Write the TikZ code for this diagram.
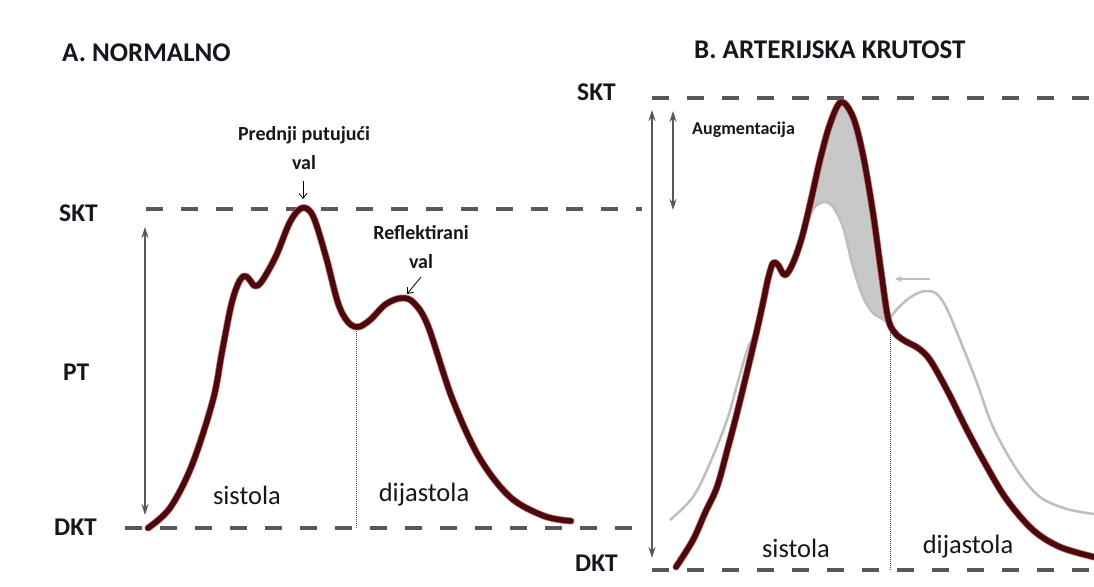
\documentclass[tikz,border=0pt]{standalone}
\usepackage{fontspec}
\setmainfont{Carlito}
\usetikzlibrary{arrows.meta}
\definecolor{wave}{RGB}{72,10,12}
\definecolor{halo}{RGB}{200,105,105}
\definecolor{dashc}{RGB}{88,88,88}
\definecolor{normc}{RGB}{190,190,190}
\definecolor{shadec}{RGB}{200,200,200}
\definecolor{txt}{RGB}{22,22,30}
\begin{document}
\begin{tikzpicture}[x=1pt,y=-1pt,
  level/.style={draw=dashc, line width=4pt, dash pattern=on 17pt off 18pt},
  wavehalo/.style={draw=halo, line width=7pt, line join=round, line cap=round},
  wavemain/.style={draw=wave, line width=5.5pt, line join=round, line cap=round},
  normwave/.style={draw=normc, line width=2.5pt, line join=round},
  span/.style={draw=dashc, line width=1.3pt, {Stealth[length=11pt,width=7pt]}-{Stealth[length=11pt,width=7pt]}},
  pointer/.style={draw=black, line width=0.8pt, -{Straight Barb[length=5pt,width=8pt]}},
  backarrow/.style={draw=normc, line width=1.6pt, -{Stealth[length=7pt,width=6pt]}},
  divider/.style={draw=black!75, line width=0.7pt, dash pattern=on 1pt off 1pt},
  title/.style={font=\fontsize{27}{32}\selectfont\bfseries, text=txt, inner sep=0pt},
  lvl/.style={font=\fontsize{25.5}{30}\selectfont\bfseries, text=txt, inner sep=0pt},
  note/.style={font=\fontsize{20}{29}\selectfont\bfseries, text=txt, inner sep=0pt, align=center},
  phase/.style={font=\fontsize{26.5}{30}\selectfont, text=txt, inner sep=0pt},
]
\useasboundingbox[fill=white] (0,0) rectangle (1094,586);

% ---------- titles and level labels ----------
\node[title, anchor=west] (tA) at (62,53) {A. NORMALNO};
\node[title, anchor=west] (tB) at (694,50) {B. ARTERIJSKA KRUTOST};
\node[lvl, anchor=west] (sktA) at (59,213) {SKT};
\node[lvl, anchor=west] (ptA) at (63,372) {PT};
\node[lvl, anchor=west] (dktA) at (54,527) {DKT};
\node[lvl, anchor=west] (sktB) at (577,92) {SKT};
\node[lvl, anchor=west] (dktB) at (575,563) {DKT};

% ---------- level lines ----------
\coordinate (sA1) at (146,209); \coordinate (sA2) at (642,209);
\coordinate (dA1) at (125,528); \coordinate (dA2) at (642,528);
\coordinate (sB1) at (652,98);  \coordinate (sB2) at (1094,98);
\coordinate (dB1) at (652,570); \coordinate (dB2) at (1094,570);
\draw[level] (sA1) -- (sA2);
\draw[level] (dA1) -- (dA2);
\draw[level] (sB1) -- (sB2);
\draw[level] (dB1) -- (dB2);

% ---------- span arrows ----------
\coordinate (pt1) at (145,227); \coordinate (pt2) at (145,515);
\coordinate (bg1) at (652,110); \coordinate (bg2) at (652,558);
\coordinate (au1) at (673,111); \coordinate (au2) at (673,210);
\draw[span] (pt1) -- (pt2);
\draw[span] (bg1) -- (bg2);
\draw[span] (au1) -- (au2);
\node[font=\fontsize{18}{22}\selectfont\bfseries, text=txt, inner sep=0pt, anchor=west] (aug) at (692,130) {Augmentacija};

% ---------- dividers ----------
\coordinate (dvA1) at (356,327); \coordinate (dvA2) at (356,528);
\coordinate (dvB1) at (890,327); \coordinate (dvB2) at (890,570);
\draw[divider] (dvA1) -- (dvA2);
\draw[divider] (dvB1) -- (dvB2);

% ---------- panel A wave ----------
\def\waveA{(148,528) (170,508) (192,465) (213,400) (222,352) (231,306) (238,284) (244,276) (249,279) (255,286) (262,281) (276,256) (290,222) (302,208) (313,216) (326,257) (338,303) (348,322) (358,327) (370,320) (386,304) (402,298) (414,303) (428,326) (452,398) (479,457) (510,497) (544,516) (571,521)}
\draw[wavehalo] plot[smooth, tension=0.55] coordinates {\waveA};
\draw[wavemain] plot[smooth, tension=0.55] coordinates {\waveA};

% ---------- panel B: augmentation shade ----------
\fill[shadec] plot[smooth, tension=0.5] coordinates {(800,244) (811,200) (820,160) (830,124) (841,102) (853,117) (863,155) (873,213) (881,271) (888,320) (880,319) (872,312) (863,297) (853,267) (843,227) (833,207) (825,202) (817,205) (806,228)} -- cycle;

% ---------- panel B: normal (grey) wave ----------
\draw[normwave] plot[smooth, tension=0.55] coordinates {(670,520) (693,497) (710,463) (727,420) (737,385) (748,348) (757,330) (764,298) (768,279) (773,263) (778,265) (785,275) (793,263) (802,237) (810,214) (817,205) (825,202) (833,207) (843,227) (853,267) (863,297) (873,313) (883,318) (890,317) (898,308) (908,299) (918,293) (927,291) (937,294) (947,309) (960,340) (977,383) (993,427) (1017,470) (1040,497) (1067,509) (1094,514)};

% ---------- panel B: stiff wave ----------
\def\waveB{(676,567) (693,540) (705,513) (717,487) (727,451) (737,413) (747,372) (757,330) (764,298) (768,279) (773,263) (778,265) (785,275) (793,263) (802,237) (811,200) (820,160) (830,124) (841,102) (853,117) (863,155) (873,213) (881,271) (888,318) (895,333) (905,341) (918,348) (930,360) (947,390) (967,430) (987,467) (1007,500) (1033,530) (1060,547) (1094,557)}
\draw[wavehalo] plot[smooth, tension=0.55] coordinates {\waveB};
\draw[wavemain] plot[smooth, tension=0.55] coordinates {\waveB};

% ---------- small shift arrow ----------
\coordinate (sh1) at (930,279); \coordinate (sh2) at (895,279);
\draw[backarrow] (sh1) -- (sh2);

% ---------- annotations ----------
\node[note] (prednji) at (304,148) {Prednji putujući\\val};
\coordinate (pa1) at (303,181); \coordinate (pa2) at (303,199);
\draw[pointer] (pa1) -- (pa2);
\node[note] (refl) at (421,247) {Reflektirani\\val};
\coordinate (ra1) at (421,277); \coordinate (ra2) at (407,294);
\draw[pointer] (ra1) -- (ra2);

% ---------- phase labels ----------
\node[phase] (sisA) at (247,495) {sistola};
\node[phase] (diaA) at (424,495) {dijastola};
\node[phase] (sisB) at (796,548) {sistola};
\node[phase] (diaB) at (968,547) {dijastola};
\end{tikzpicture}
\end{document}
